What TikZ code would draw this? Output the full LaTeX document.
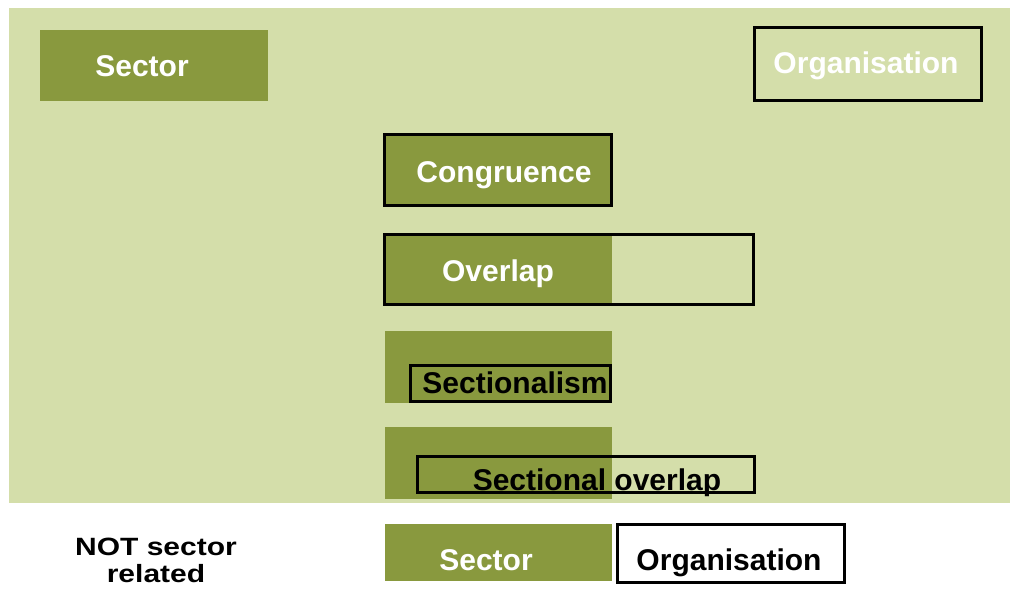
\documentclass[tikz,border=0pt]{standalone}
\usepackage{fontspec}
\setmainfont{Liberation Sans}
\newfontfamily\widefont[FakeStretch=1.2]{Liberation Sans}
\definecolor{lightg}{RGB}{212,222,170}
\definecolor{darkg}{RGB}{137,153,62}
\begin{document}
\begin{tikzpicture}[x=1pt,y=-1pt,
  box/.style={rectangle, inner sep=0pt, outer sep=0pt, anchor=north west},
  darkbox/.style={box, fill=darkg},
  outline/.style={box, draw=black, line width=3pt},
  lbl/.style={font=\bfseries\fontsize{30}{34}\selectfont, inner sep=0pt, anchor=base},
  wlbl/.style={lbl, text=white},
  klbl/.style={lbl, text=black},
  note/.style={font=\widefont\bfseries\fontsize{25}{28}\selectfont, inner sep=0pt, anchor=base, text=black},
]
\path[use as bounding box] (0,0) rectangle (1010,590);
\fill[lightg] (9,8) rectangle (1010,503);

% top row
\node[darkbox, minimum width=228pt, minimum height=71pt] (sec1) at (40,30) {};
\node[wlbl] (sec1t) at (142,76) {Sector};
\node[outline, minimum width=227pt, minimum height=73pt] (org1) at (754.5,27.5) {};
\node[wlbl] (org1t) at (866,73) {Organisation};

% congruence
\node[outline, fill=darkg, minimum width=227pt, minimum height=71pt] (cong) at (384.5,134.5) {};
\node[wlbl] (congt) at (504,182) {Congruence};

% overlap
\node[darkbox, minimum width=229pt, minimum height=71pt] (ovf) at (383,235) {};
\node[outline, minimum width=369pt, minimum height=70pt] (ovo) at (384.5,234.5) {};
\node[wlbl] (ovt) at (498,281) {Overlap};

% sectionalism
\node[darkbox, minimum width=227pt, minimum height=72pt] (sif) at (385,331) {};
\node[outline, minimum width=200pt, minimum height=36pt] (sio) at (410.5,365.5) {};
\node[klbl] (sit) at (515,393) {Sectionalism};

% sectional overlap
\node[darkbox, minimum width=227pt, minimum height=72pt] (sof) at (385,427) {};
\node[outline, minimum width=337pt, minimum height=36pt] (soo) at (417.5,456.5) {};
\node[klbl] (sot) at (597,490) {Sectional overlap};

% not sector related
\node[darkbox, minimum width=227pt, minimum height=57pt] (sec2) at (385,524) {};
\node[wlbl] (sec2t) at (486,570) {Sector};
\node[outline, fill=white, minimum width=227pt, minimum height=58pt] (org2) at (617.5,524.5) {};
\node[klbl] (org2t) at (729,570) {Organisation};
\node[note] (nsr1) at (156,555) {NOT sector};
\node[note] (nsr2) at (156,582) {related};
\end{tikzpicture}
\end{document}
